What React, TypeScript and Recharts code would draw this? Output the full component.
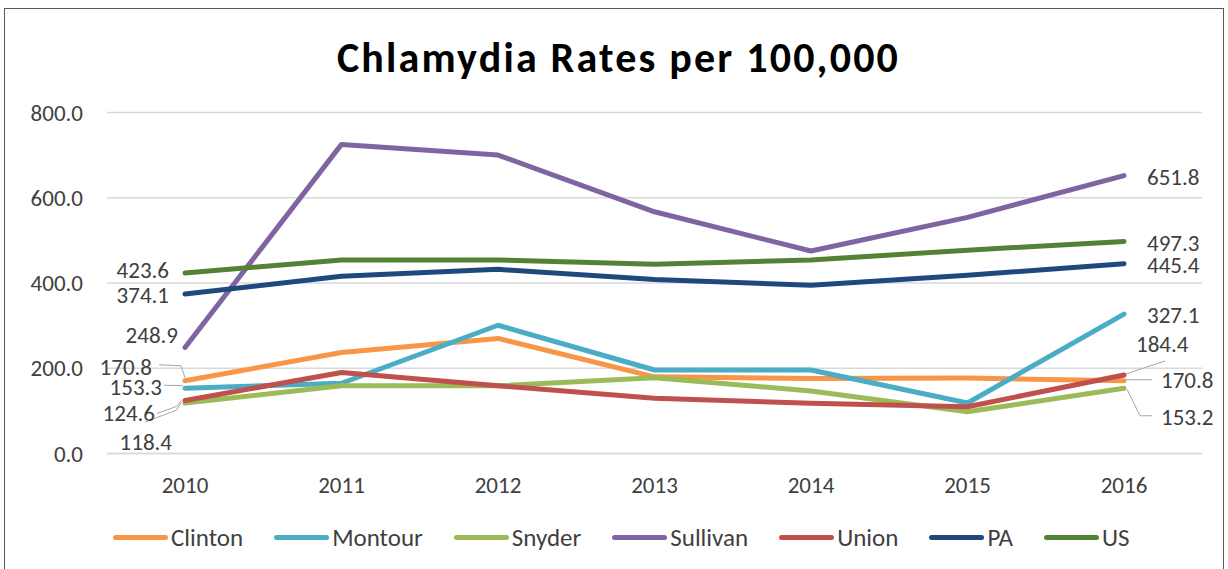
import { LineChart, Line, XAxis, YAxis, CartesianGrid, LabelList } from 'recharts'

const years = ['2010', '2011', '2012', '2013', '2014', '2015', '2016']
const clinton = [170.8, 237, 270, 180, 176, 177, 170.8]
const montour = [153.3, 165, 301, 196, 196, 118.6, 327.1]
const snyder = [118.4, 159, 159, 178, 147, 98, 153.2]
const sullivan = [248.9, 725, 700, 567, 475, 554, 651.8]
const union = [124.6, 190, 159, 130, 118, 110, 184.4]
const pa = [374.1, 416, 432, 408, 395, 418, 445.4]
const us = [423.6, 454, 454, 444, 454, 477, 497.3]
const yTicks = [0, 200, 400, 600, 800]

const series = [
  { name: 'Clinton', values: clinton, color: '#F79646' },
  { name: 'Montour', values: montour, color: '#4BACC6' },
  { name: 'Snyder', values: snyder, color: '#9BBB59' },
  { name: 'Sullivan', values: sullivan, color: '#8064A2' },
  { name: 'Union', values: union, color: '#C0504D' },
  { name: 'PA', values: pa, color: '#1F497D' },
  { name: 'US', values: us, color: '#548235' },
]

const FONT = 'Carlito, Calibri, Lato, sans-serif'
const TEXT = '#404040'

type Pt = [number, number]
interface EndLabel {
  dx: number
  dy: number
  anchor: 'start' | 'end'
  leader?: Pt[]
}

// label offsets relative to the first / last point of each series
const endLabels: Record<string, { first: EndLabel; last: EndLabel }> = {
  Clinton: {
    first: { dx: -33, dy: -14, anchor: 'end', leader: [[-26, -16], [-4, -15], [0, -3]] },
    last: { dx: 37, dy: -1, anchor: 'start', leader: [[28, -1], [2, -1]] },
  },
  Montour: {
    first: { dx: -23, dy: -1.5, anchor: 'end', leader: [[-21, -3], [-2, -2.5]] },
    last: { dx: 23, dy: 1, anchor: 'start' },
  },
  Snyder: {
    first: { dx: -13, dy: 38.5, anchor: 'end', leader: [[-40, 19], [-8.5, 7], [-3.5, -1]] },
    last: { dx: 37, dy: 28.5, anchor: 'start', leader: [[28, 27.5], [16, 27.5], [3, 1]] },
  },
  Sullivan: {
    first: { dx: -7, dy: -12, anchor: 'end' },
    last: { dx: 23, dy: 1, anchor: 'start' },
  },
  Union: {
    first: { dx: -30, dy: 12.5, anchor: 'end', leader: [[-28, 13], [-8.5, 6], [-3.5, 0]] },
    last: { dx: 12, dy: -31.5, anchor: 'start', leader: [[41, -14], [2, -1]] },
  },
  PA: {
    first: { dx: -16, dy: 1, anchor: 'end' },
    last: { dx: 23, dy: 1.5, anchor: 'start' },
  },
  US: {
    first: { dx: -16, dy: -3, anchor: 'end' },
    last: { dx: 23, dy: 1, anchor: 'start' },
  },
}

const data = years.map((year, i) => {
  const row: Record<string, string | number> = { year }
  series.forEach((s) => {
    row[s.name] = s.values[i]
  })
  return row
})

function endLabel(name: string) {
  return (props: any) => {
    const { x, y, value, index } = props
    const cfg =
      index === 0 ? endLabels[name].first : index === years.length - 1 ? endLabels[name].last : null
    if (!cfg || x == null || y == null) return null
    return (
      <g>
        {cfg.leader && (
          <polyline
            points={cfg.leader.map(([a, b]) => `${x + a},${y + b}`).join(' ')}
            fill="none"
            stroke="#a6a6a6"
            strokeWidth={1}
          />
        )}
        <text
          x={x + cfg.dx}
          y={y + cfg.dy}
          dy="0.35em"
          textAnchor={cfg.anchor}
          fontFamily={FONT}
          fontSize={23}
          fill={TEXT}
        >
          {Number(value).toFixed(1)}
        </text>
      </g>
    )
  }
}

export default function App() {
  return (
    <div style={{ position: 'absolute', left: 0, top: 0, width: 1228, height: 569, background: '#fff', overflow: 'hidden' }}>
      <div
        style={{
          position: 'absolute',
          left: 4,
          top: 8,
          width: 1220,
          height: 580,
          border: '1.5px solid #595959',
          boxSizing: 'border-box',
        }}
      />
      <div
        style={{
          position: 'absolute',
          left: 0,
          width: 1237,
          top: 32,
          textAlign: 'center',
          fontFamily: FONT,
          fontWeight: 700,
          fontSize: 42,
          letterSpacing: 2.2,
          color: '#000',
          lineHeight: '52px',
        }}
      >
        Chlamydia Rates per 100,000
      </div>
      <div style={{ position: 'absolute', left: 0, top: 0 }}>
        <LineChart width={1228} height={569} data={data} margin={{ top: 112.4, right: 26, left: 0, bottom: 75.4 }}>
          <CartesianGrid vertical={false} stroke="#d9d9d9" strokeWidth={1.5} />
          <XAxis
            dataKey="year"
            height={40}
            padding={{ left: 78, right: 78 }}
            tickLine={false}
            axisLine={{ stroke: '#d9d9d9', strokeWidth: 1.5 }}
            tickSize={0}
            tickMargin={23}
            tick={{ fill: TEXT, fontSize: 23, fontFamily: FONT }}
            interval={0}
          />
          <YAxis
            width={107}
            domain={[0, 800]}
            ticks={yTicks}
            tickFormatter={(v) => Number(v).toFixed(1)}
            tickLine={false}
            axisLine={false}
            tickSize={0}
            tickMargin={24}
            tick={{ fill: TEXT, fontSize: 23, fontFamily: FONT }}
          />
          {series.map((s) => (
            <Line
              key={s.name}
              dataKey={s.name}
              stroke={s.color}
              strokeWidth={5}
              strokeLinejoin="round"
              strokeLinecap="round"
              dot={false}
              activeDot={false}
              isAnimationActive={false}
            >
              <LabelList dataKey={s.name} content={endLabel(s.name)} />
            </Line>
          ))}
        </LineChart>
      </div>
      <div
        style={{
          position: 'absolute',
          left: 113,
          top: 521,
          height: 32,
          display: 'flex',
          alignItems: 'center',
          gap: 31,
          fontFamily: FONT,
          fontSize: 25,
          color: TEXT,
        }}
      >
        {series.map((s) => (
          <div key={s.name} style={{ display: 'flex', alignItems: 'center' }}>
            <div style={{ width: 55, height: 5, borderRadius: 3, background: s.color, marginRight: 3 }} />
            <span>{s.name}</span>
          </div>
        ))}
      </div>
    </div>
  )
}
